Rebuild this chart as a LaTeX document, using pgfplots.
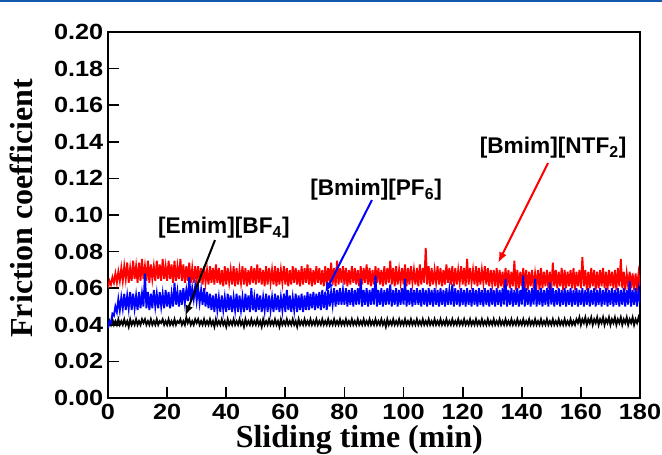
\documentclass[border=0pt]{standalone}
\usepackage{fontspec}
\setmainfont{Liberation Serif}
\newfontfamily\tickfont[FakeStretch=1.15]{Liberation Sans}
\newfontfamily\annfont{Liberation Sans}
\usepackage{pgfplots}
\usepackage{pgfplotstable}
\pgfplotsset{compat=1.18}
\usetikzlibrary{arrows.meta}
\definecolor{topblue}{RGB}{20,90,170}
\pgfplotstableread{
t r b k
0 .060 .038 .039
0.5 .064 .042 .042
1 .062 .041 .040
1.5 .066 .046 .043
2 .063 .045 .040
2.5 .068 .050 .042
3 .063 .047 .040
3.5 .069 .054 .043
4 .064 .048 .040
4.5 .071 .055 .042
5 .064 .049 .040
5.5 .072 .057 .043
6 .065 .048 .040
6.5 .074 .056 .042
7 .063 .049 .039
7.5 .071 .058 .043
8 .064 .048 .040
8.5 .075 .057 .042
9 .065 .049 .040
9.5 .072 .056 .043
10 .063 .048 .040
10.5 .074 .058 .042
11 .064 .049 .040
11.5 .076 .057 .043
12 .065 .050 .041
12.5 .072 .068 .043
13 .064 .049 .040
13.5 .075 .058 .042
14 .063 .048 .040
14.5 .073 .057 .043
15 .065 .049 .040
15.5 .072 .059 .042
16 .064 .050 .040
16.5 .075 .057 .043
17 .065 .049 .040
17.5 .073 .058 .042
18 .064 .050 .041
18.5 .076 .057 .043
19 .065 .049 .040
19.5 .072 .059 .042
20 .064 .050 .040
20.5 .075 .058 .043
21 .065 .049 .040
21.5 .073 .057 .042
22 .063 .050 .040
22.5 .075 .063 .043
23 .064 .051 .040
23.5 .072 .058 .042
24 .065 .050 .041
24.5 .076 .059 .043
25 .064 .051 .040
25.5 .073 .060 .042
26 .063 .052 .040
26.5 .072 .059 .044
27 .064 .053 .041
27.5 .074 .066 .043
28 .063 .053 .040
28.5 .071 .060 .042
29 .063 .054 .040
29.5 .072 .061 .043
30 .064 .053 .041
30.5 .072 .060 .043
31 .063 .052 .040
31.5 .071 .059 .042
32 .062 .051 .040
32.5 .072 .060 .043
33 .063 .050 .040
33.5 .070 .058 .042
34 .062 .049 .040
34.5 .072 .057 .043
35 .063 .048 .040
35.5 .071 .056 .042
36 .062 .047 .039
36.5 .073 .057 .043
37 .063 .048 .040
37.5 .071 .055 .042
38 .062 .047 .040
38.5 .070 .056 .043
39 .061 .048 .040
39.5 .072 .055 .042
40 .062 .047 .039
40.5 .071 .057 .043
41 .063 .048 .040
41.5 .070 .056 .042
42 .062 .047 .040
42.5 .072 .055 .043
43 .061 .048 .040
43.5 .071 .057 .042
44 .062 .047 .040
44.5 .070 .056 .043
45 .063 .048 .040
45.5 .072 .055 .042
46 .062 .047 .039
46.5 .071 .057 .043
47 .061 .048 .040
47.5 .070 .056 .042
48 .062 .047 .040
48.5 .072 .060 .043
49 .063 .048 .040
49.5 .071 .055 .042
50 .062 .047 .040
50.5 .073 .057 .043
51 .063 .048 .040
51.5 .071 .056 .042
52 .062 .047 .039
52.5 .070 .055 .043
53 .061 .048 .040
53.5 .072 .057 .042
54 .062 .047 .040
54.5 .071 .056 .043
55 .063 .048 .040
55.5 .070 .055 .042
56 .062 .047 .040
56.5 .072 .057 .043
57 .061 .048 .040
57.5 .071 .056 .042
58 .062 .047 .039
58.5 .070 .055 .043
59 .063 .048 .040
59.5 .072 .057 .042
60 .062 .047 .040
60.5 .071 .059 .043
61 .061 .048 .040
61.5 .070 .056 .042
62 .062 .047 .040
62.5 .072 .055 .043
63 .063 .048 .040
63.5 .071 .057 .042
64 .062 .047 .039
64.5 .070 .056 .043
65 .061 .048 .040
65.5 .072 .057 .042
66 .062 .047 .040
66.5 .071 .056 .043
67 .063 .048 .040
67.5 .073 .058 .042
68 .062 .048 .040
68.5 .071 .057 .043
69 .061 .049 .040
69.5 .070 .058 .042
70 .062 .048 .040
70.5 .072 .057 .043
71 .063 .049 .040
71.5 .071 .058 .042
72 .062 .048 .040
72.5 .070 .059 .043
73 .061 .049 .040
73.5 .072 .058 .042
74 .062 .048 .040
74.5 .071 .059 .043
75 .063 .050 .040
75.5 .074 .058 .042
76 .062 .051 .040
76.5 .071 .060 .043
77 .061 .050 .040
77.5 .075 .059 .042
78 .062 .051 .040
78.5 .071 .060 .043
79 .063 .051 .040
79.5 .072 .059 .042
80 .062 .051 .040
80.5 .071 .060 .043
81 .061 .050 .040
81.5 .070 .059 .042
82 .062 .051 .040
82.5 .072 .060 .043
83 .063 .050 .040
83.5 .071 .059 .042
84 .062 .051 .040
84.5 .070 .060 .043
85 .061 .051 .040
85.5 .072 .065 .042
86 .062 .050 .040
86.5 .071 .059 .043
87 .063 .051 .040
87.5 .073 .060 .042
88 .062 .050 .040
88.5 .071 .059 .043
89 .061 .051 .040
89.5 .070 .060 .042
90 .062 .051 .040
90.5 .072 .067 .043
91 .063 .050 .040
91.5 .071 .059 .042
92 .062 .051 .040
92.5 .070 .060 .043
93 .061 .050 .040
93.5 .072 .059 .042
94 .062 .051 .039
94.5 .071 .060 .043
95 .063 .051 .040
95.5 .075 .062 .042
96 .062 .050 .040
96.5 .071 .059 .043
97 .061 .051 .040
97.5 .072 .060 .042
98 .062 .050 .040
98.5 .070 .059 .043
99 .063 .051 .040
99.5 .071 .060 .042
100 .062 .051 .040
100.5 .073 .065 .043
101 .061 .050 .040
101.5 .071 .059 .042
102 .062 .051 .040
102.5 .072 .060 .043
103 .063 .050 .040
103.5 .070 .059 .042
104 .062 .051 .040
104.5 .071 .060 .043
105 .061 .051 .040
105.5 .073 .059 .042
106 .062 .050 .040
106.5 .071 .060 .043
107 .063 .051 .040
107.5 .082 .059 .042
108 .062 .050 .040
108.5 .072 .060 .043
109 .061 .051 .040
109.5 .071 .059 .042
110 .062 .050 .040
110.5 .070 .060 .043
111 .063 .051 .040
111.5 .072 .059 .042
112 .062 .050 .040
112.5 .071 .060 .043
113 .061 .051 .040
113.5 .070 .059 .042
114 .062 .050 .040
114.5 .073 .060 .043
115 .063 .051 .040
115.5 .071 .059 .042
116 .062 .051 .040
116.5 .072 .062 .043
117 .061 .050 .040
117.5 .071 .060 .042
118 .062 .051 .040
118.5 .070 .059 .043
119 .063 .050 .040
119.5 .072 .060 .042
120 .062 .051 .040
120.5 .071 .059 .043
121 .061 .050 .040
121.5 .076 .060 .042
122 .062 .051 .040
122.5 .071 .059 .043
123 .063 .050 .040
123.5 .070 .060 .042
124 .062 .051 .040
124.5 .072 .059 .043
125 .061 .050 .040
125.5 .071 .060 .042
126 .062 .051 .040
126.5 .070 .059 .043
127 .063 .050 .040
127.5 .072 .060 .042
128 .062 .051 .040
128.5 .071 .059 .043
129 .061 .050 .040
129.5 .070 .060 .042
130 .062 .051 .040
130.5 .070 .059 .043
131 .061 .050 .040
131.5 .071 .060 .042
132 .060 .051 .040
132.5 .070 .059 .043
133 .061 .050 .040
133.5 .069 .060 .042
134 .060 .051 .040
134.5 .071 .065 .043
135 .061 .050 .040
135.5 .070 .059 .042
136 .060 .051 .040
136.5 .069 .060 .043
137 .061 .050 .040
137.5 .075 .059 .042
138 .059 .051 .040
138.5 .070 .060 .043
139 .060 .050 .040
139.5 .069 .059 .042
140 .061 .051 .040
140.5 .071 .067 .043
141 .060 .050 .040
141.5 .070 .060 .042
142 .059 .051 .040
142.5 .069 .059 .043
143 .061 .050 .040
143.5 .070 .060 .042
144 .060 .051 .040
144.5 .068 .065 .043
145 .061 .050 .040
145.5 .070 .059 .042
146 .059 .051 .040
146.5 .071 .060 .043
147 .060 .050 .040
147.5 .069 .059 .042
148 .061 .051 .040
148.5 .070 .060 .043
149 .060 .050 .040
149.5 .069 .063 .042
150 .059 .051 .040
150.5 .074 .060 .043
151 .061 .050 .040
151.5 .070 .059 .042
152 .060 .051 .040
152.5 .069 .060 .043
153 .061 .050 .040
153.5 .071 .059 .042
154 .059 .051 .040
154.5 .070 .060 .043
155 .060 .050 .040
155.5 .069 .059 .042
156 .061 .051 .040
156.5 .070 .060 .043
157 .060 .050 .040
157.5 .071 .059 .042
158 .059 .051 .040
158.5 .069 .060 .043
159 .061 .050 .041
159.5 .070 .059 .044
160 .060 .051 .040
160.5 .077 .060 .043
161 .061 .050 .041
161.5 .070 .059 .044
162 .059 .051 .040
162.5 .069 .060 .043
163 .060 .050 .041
163.5 .071 .059 .044
164 .061 .051 .040
164.5 .070 .060 .043
165 .059 .050 .041
165.5 .069 .059 .044
166 .060 .051 .040
166.5 .070 .060 .043
167 .061 .050 .041
167.5 .071 .059 .044
168 .060 .051 .040
168.5 .069 .060 .043
169 .059 .050 .041
169.5 .070 .059 .044
170 .061 .051 .040
170.5 .069 .060 .043
171 .060 .050 .041
171.5 .070 .059 .044
172 .059 .051 .040
172.5 .071 .060 .043
173 .061 .050 .041
173.5 .076 .059 .044
174 .060 .051 .040
174.5 .069 .060 .043
175 .059 .050 .041
175.5 .068 .059 .044
176 .061 .051 .040
176.5 .069 .064 .043
177 .060 .050 .041
177.5 .068 .059 .044
178 .059 .051 .040
178.5 .068 .060 .043
179 .060 .050 .041
179.5 .068 .059 .044
180 .061 .052 .041
}\fric
\begin{document}
\begin{tikzpicture}
\begin{axis}[
  scale only axis,
  width=399pt, height=274.5pt,
  xmin=0, xmax=180, ymin=0, ymax=0.20,
  xtick={0,20,...,180},
  ytick={0,0.02,...,0.2001},
  axis line style={line width=1.5pt},
  tick style={line width=1.3pt, black},
  tick align=inside,
  major tick length=8pt,
  xtick pos=bottom, ytick pos=left,
  tick label style={font=\tickfont\bfseries\fontsize{16.5}{18}\selectfont},
  /pgf/number format/assume math mode=true,
  yticklabel style={/pgf/number format/.cd, fixed, fixed zerofill, precision=2},
  xticklabel style={yshift=-1pt},
  xlabel={\bfseries Sliding time (min)},
  ylabel={\bfseries Friction coefficient},
  label style={font=\bfseries\fontsize{24}{26}\selectfont},
  xlabel style={yshift=2.5pt, xshift=-11pt},
  ylabel style={yshift=9pt, xshift=5pt},
  clip=true,
]
\addplot[black, line width=1.4pt] table[x=t, y=k] {\fric};
\addplot[red, line width=1.4pt] table[x=t, y=r] {\fric};
\addplot[blue, line width=1.4pt] table[x=t, y=b] {\fric};
\node[font=\annfont\bfseries\fontsize{17}{19}\selectfont, black] at (axis cs:39.2,0.0929) {[Emim][BF\textsubscript{4}]};
\node[font=\annfont\bfseries\fontsize{17}{19}\selectfont, black] at (axis cs:90.7,0.1137) {[Bmim][PF\textsubscript{6}]};
\node[font=\annfont\bfseries\fontsize{17}{19}\selectfont, black] at (axis cs:150.6,0.1366) {[Bmim][NTF\textsubscript{2}]};
\draw[black, line width=1.5pt, -{Latex[length=8pt,width=6pt]}] (axis cs:36.2,0.0863) -- (axis cs:26.1,0.0448);
\draw[blue, line width=1.5pt, -{Latex[length=8pt,width=6pt]}] (axis cs:89.3,0.1082) -- (axis cs:73.4,0.0574);
\draw[red, line width=1.5pt, -{Latex[length=8pt,width=6pt]}] (axis cs:148.9,0.1284) -- (axis cs:132.0,0.0738);
\end{axis}
\pgfresetboundingbox
\path ([xshift=-81pt,yshift=-42.75pt]current axis.south west) rectangle ([xshift=16.5pt,yshift=24pt]current axis.north east);
\fill[topblue] ([xshift=-81pt,yshift=22.8pt]current axis.north west) rectangle ([xshift=16.5pt,yshift=24pt]current axis.north east);
\end{tikzpicture}
\end{document}
